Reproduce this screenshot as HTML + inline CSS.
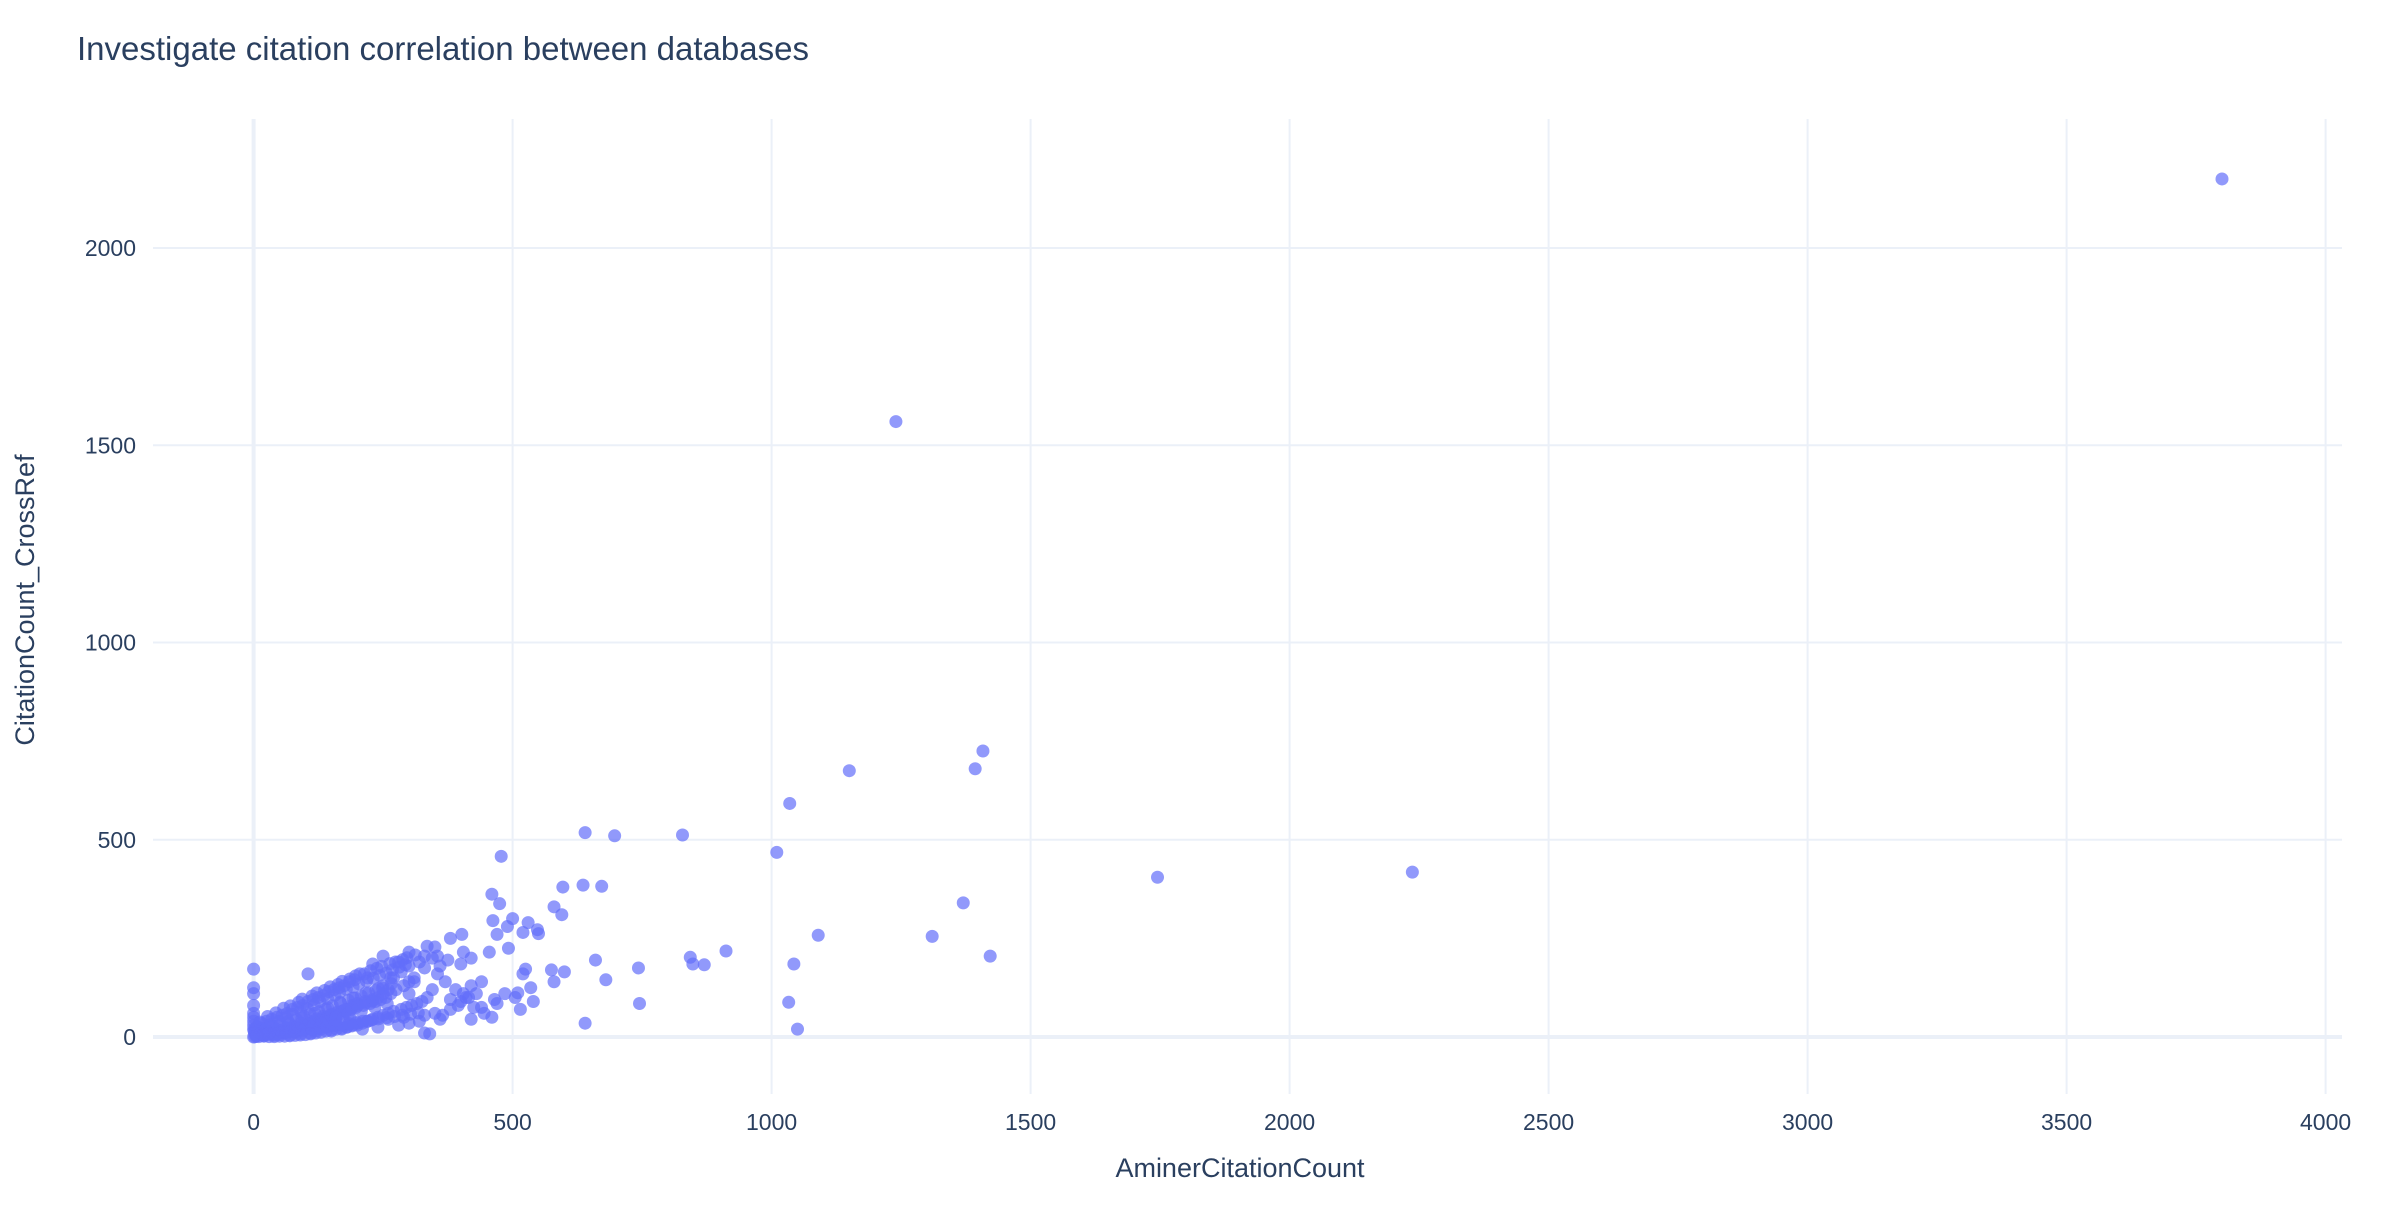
<!DOCTYPE html>
<html><head><meta charset="utf-8">
<style>
html,body{margin:0;padding:0;background:#fff;}
svg text{font-family:"Liberation Sans",sans-serif;fill:#2a3f5f;}
</style></head>
<body>
<svg id="chart" width="2400" height="1200" xmlns="http://www.w3.org/2000/svg">
<rect width="2400" height="1200" fill="#fff"/>
<g id="grid"></g>
<g id="points"></g>
<g id="ticks"></g>
<text x="77" y="60" font-size="33">Investigate citation correlation between databases</text>
<text x="1240" y="1177" font-size="27" text-anchor="middle">AminerCitationCount</text>
<text transform="translate(34,600) rotate(-90)" font-size="27" text-anchor="middle">CitationCount_CrossRef</text>
</svg>
<script>
const xTicks=[0,500,1000,1500,2000,2500,3000,3500,4000];
const yTicks=[0,500,1000,1500,2000];
const aminer=[3800,1240,1408,1393,1150,1035,828,640,697,1010,478,1745,2237,1370,1310,1090,912,843,848,870,1043,1422,1033,1050,743,745,640,660,680,597,672,636,460,475,580,595,462,500,490,530,550,548,520,470,575,600,525,520,580,535,510,505,515,540,485,492,455,440,415,420,402,380,350,335,330,360,400,405,420,300,280,250,230,105,0,0,0,340,330,365,440,465,400,430,310,300,270,250,
350,360,380,330,320,300,290,280,260,240,220,210,200,190,180,170,160,150,140,130,120,110,100,90,80,70,60,50,40,30,20,10,5,2,
220,205,195,185,175,165,155,145,135,125,115,105,95,85,75,65,55,45,35,25,15,8,3,1,
260,250,240,230,215,200,190,180,170,160,150,140,130,120,110,100,90,80,70,60,50,40,30,20,12,6,
310,300,290,275,265,255,245,235,225,212,198,188,178,168,158,148,138,128,118,108,98,88,78,68,58,48,38,28,18,
345,335,325,315,305,295,285,270,260,250,240,230,220,210,200,190,180,170,160,150,140,130,120,110,100,90,80,70,60,50,40,30,20,10,
0,0,0,0,0,0,0,2,4,6,
380,395,410,425,370,355,445,460,470,390,405,420,300,320,285,265,330,345,355,375,
12,27,43,58,71,87,94,113,122,137,148,163,171,186,197,214,226,238,247,263,274,288,296,312,
17,33,49,63,76,91,104,117,128,143,157,166,179,192,203,218,231,243,256,268,281,293,
9,22,36,52,67,83,97,109,126,139,152,168,183,196,208,222,236,249,
14,31,46,61,78,92,107,121,134,149,161,176,189,201,216,229,
24,39,55,72,88,101,116,131,144,158,173,186,
6,19,34,48,62,79,96,112,127,141,155,169,184,199,211,227,241,257,272,287,303,318,
44,69,93,118,143,167,192,217,241,266,29,54,81,106,133,159,183,208,234,258];
const crossref=[2175,1560,725,680,675,592,512,518,510,468,458,405,418,340,255,258,218,202,185,183,185,205,88,20,175,85,35,195,145,380,382,385,362,338,330,310,295,300,280,290,262,272,265,260,170,165,172,160,140,125,112,100,70,90,110,225,215,140,100,45,260,250,228,230,205,180,185,215,200,215,190,205,185,160,172,125,110,8,10,55,75,95,90,110,140,110,150,130,
60,45,70,55,40,35,50,30,45,25,40,20,35,30,25,20,30,15,25,20,15,10,20,8,12,5,10,6,4,8,3,5,2,1,
150,160,145,140,130,125,120,115,105,100,95,90,80,75,70,60,55,50,45,40,35,25,20,15,
120,110,100,95,90,85,80,70,65,60,55,50,45,40,35,30,28,25,22,18,15,12,10,8,6,4,
150,140,130,120,110,100,95,90,85,80,75,70,65,60,55,50,45,40,35,30,28,25,22,18,15,12,10,8,6,
120,100,90,85,80,75,70,65,60,55,50,45,40,35,30,28,25,22,20,18,15,12,10,8,6,5,4,3,2,2,1,1,2,1,
0,20,40,60,80,30,50,10,15,25,
95,80,100,75,140,160,60,50,85,120,110,130,180,190,165,150,175,200,205,195,
38,52,61,73,79,88,96,104,112,118,127,133,141,147,155,160,168,174,179,186,190,196,201,208,
22,31,40,49,57,64,72,81,90,97,106,113,121,127,135,142,149,156,162,170,177,183,
14,18,26,31,39,44,52,58,64,71,79,86,93,99,104,112,118,124,
9,13,19,24,28,35,41,46,52,57,63,69,74,80,86,91,
6,9,12,16,21,26,30,35,39,43,47,51,
3,5,7,10,12,15,17,20,23,26,29,31,34,37,40,43,46,49,52,55,58,61,
20,33,47,60,74,88,99,112,123,135,9,15,24,32,41,50,58,66,75,84];
const X0=253.6,XS=0.5180,Y0=1037,YS=0.3945;
function xp(v){return X0+v*XS;}
function yp(v){return Y0-v*YS;}
const NS="http://www.w3.org/2000/svg";
const grid=document.getElementById('grid'),ticks=document.getElementById('ticks'),pts=document.getElementById('points');
xTicks.forEach(t=>{
  const l=document.createElementNS(NS,'line');
  
  
  l.setAttribute('x1',xp(t));l.setAttribute('x2',xp(t));l.setAttribute('y1',119);l.setAttribute('y2',1094);
  l.setAttribute('stroke','#EBF0F8');l.setAttribute('stroke-width',t===0?4:2);
  grid.appendChild(l);
  const tx=document.createElementNS(NS,'text');
  
  
  tx.setAttribute('x',xp(t));tx.setAttribute('y',1130);tx.setAttribute('font-size','23');tx.setAttribute('text-anchor','middle');
  tx.textContent=t;ticks.appendChild(tx);
});
yTicks.forEach(t=>{
  const l=document.createElementNS(NS,'line');
  
  
  l.setAttribute('x1',153);l.setAttribute('x2',2342);l.setAttribute('y1',yp(t));l.setAttribute('y2',yp(t));
  l.setAttribute('stroke','#EBF0F8');l.setAttribute('stroke-width',t===0?4:2);
  grid.appendChild(l);
  const tx=document.createElementNS(NS,'text');
  
  
  tx.setAttribute('x',136);tx.setAttribute('y',yp(t)+8);tx.setAttribute('font-size','23');tx.setAttribute('text-anchor','end');
  tx.textContent=t;ticks.appendChild(tx);
});
const n=Math.min(aminer.length,crossref.length);
for(let i=0;i<n;i++){
  const c=document.createElementNS(NS,'circle');
  
  
  c.setAttribute('cx',xp(aminer[i]));c.setAttribute('cy',yp(crossref[i]));c.setAttribute('r',6.5);
  c.setAttribute('fill','#636efa');c.setAttribute('fill-opacity','0.7');
  pts.appendChild(c);
}
</script>
</body></html>
